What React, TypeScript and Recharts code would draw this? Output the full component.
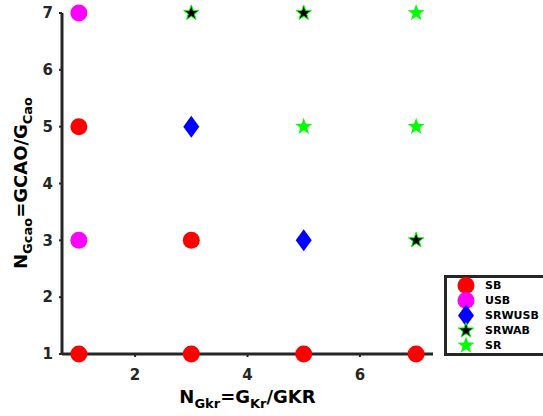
import { ScatterChart, Scatter, XAxis, YAxis, Legend } from "recharts";

const sbPoints = [
  { x: 1, y: 1 },
  { x: 3, y: 1 },
  { x: 5, y: 1 },
  { x: 7, y: 1 },
  { x: 1, y: 5 },
  { x: 3, y: 3 },
];
const usbPoints = [
  { x: 1, y: 7 },
  { x: 1, y: 3 },
];
const srwusbPoints = [
  { x: 3, y: 5 },
  { x: 5, y: 3 },
];
const srwabPoints = [
  { x: 3, y: 7 },
  { x: 5, y: 7 },
  { x: 7, y: 3 },
];
const srPoints = [
  { x: 7, y: 7 },
  { x: 5, y: 5 },
  { x: 7, y: 5 },
];

const seriesNames = ["SB", "USB", "SRWUSB", "SRWAB", "SR"];
const xTicks = [2, 4, 6];
const yTicks = [1, 2, 3, 4, 5, 6, 7];

const FONT = "'DejaVu Sans', sans-serif";
const DARK = "#262626";

function starPath(cx: number, cy: number, r: number) {
  const inner = r * 0.4;
  let d = "";
  for (let i = 0; i < 10; i++) {
    const rad = i % 2 === 0 ? r : inner;
    const a = -Math.PI / 2 + (i * Math.PI) / 5;
    d += `${i === 0 ? "M" : "L"}${cx + rad * Math.cos(a)},${cy + rad * Math.sin(a)}`;
  }
  return d + "Z";
}

const markers: Record<string, (cx: number, cy: number) => JSX.Element> = {
  SB: (cx, cy) => <circle cx={cx} cy={cy} r={8.5} fill="#ff0000" />,
  USB: (cx, cy) => <circle cx={cx} cy={cy} r={8.5} fill="#ff00ff" />,
  SRWUSB: (cx, cy) => (
    <path d={`M${cx},${cy - 11}L${cx + 8},${cy}L${cx},${cy + 11}L${cx - 8},${cy}Z`} fill="#0000ff" />
  ),
  SRWAB: (cx, cy) => (
    <path d={starPath(cx, cy, 8)} fill="#000000" stroke="#00ff00" strokeWidth={1} />
  ),
  SR: (cx, cy) => <path d={starPath(cx, cy, 9)} fill="#00ff00" />,
};

const shapeFor = (name: string) => (props: any) => markers[name](props.cx, props.cy);

function XLabel(props: any) {
  const { viewBox } = props;
  const cx = viewBox.x + viewBox.width / 2;
  const y = 403;
  return (
    <text x={cx} y={y} textAnchor="middle" fontFamily={FONT} fontWeight="bold" fontSize={18} fill="#000">
      N
      <tspan fontSize={13} dy={5}>Gkr</tspan>
      <tspan dy={-5}>=G</tspan>
      <tspan fontSize={13} dy={5}>Kr</tspan>
      <tspan dy={-5}>/GKR</tspan>
    </text>
  );
}

function YLabel() {
  const x = 27;
  const y = 183;
  return (
    <text
      x={x}
      y={y}
      transform={`rotate(-90, ${x}, ${y})`}
      textAnchor="middle"
      fontFamily={FONT}
      fontWeight="bold"
      fontSize={18}
      fill="#000"
    >
      N
      <tspan fontSize={13} dy={5}>Gcao</tspan>
      <tspan dy={-5}>=GCAO/G</tspan>
      <tspan fontSize={13} dy={5}>Cao</tspan>
    </text>
  );
}

function LegendBox() {
  return (
    <div
      style={{
        width: 110,
        height: 81,
        border: `3px solid ${DARK}`,
        background: "#fff",
        boxSizing: "border-box",
        paddingTop: 0,
      }}
    >
      {seriesNames.map((name) => (
        <div key={name} style={{ height: 15, display: "flex", alignItems: "center" }}>
          <svg width={36} height={15} style={{ overflow: "visible" }}>
            {markers[name](19, 7.5)}
          </svg>
          <span style={{ fontFamily: FONT, fontWeight: "bold", fontSize: 11, color: "#000", marginLeft: 2 }}>
            {name}
          </span>
        </div>
      ))}
    </div>
  );
}

const tickStyle = { fontFamily: FONT, fontWeight: "bold", fontSize: 15, fill: DARK };

export default function App() {
  return (
    <div style={{ position: "absolute", left: 0, top: 0, width: 543, height: 416, background: "#fff" }}>
      <ScatterChart width={543} height={416} margin={{ top: 13, right: 110, left: 0, bottom: 0 }}>
        <XAxis
          type="number"
          dataKey="x"
          domain={[0.7, 7.3]}
          ticks={xTicks}
          height={62}
          axisLine={{ stroke: DARK, strokeWidth: 3 }}
          tickLine={{ stroke: DARK, strokeWidth: 2 }}
          tickSize={3}
          tickMargin={12}
          tick={tickStyle}
          label={<XLabel />}
        />
        <YAxis
          type="number"
          dataKey="y"
          domain={[1, 7]}
          ticks={yTicks}
          width={62}
          axisLine={{ stroke: DARK, strokeWidth: 3 }}
          tickLine={{ stroke: DARK, strokeWidth: 2 }}
          tickSize={3}
          tickMargin={6}
          tick={tickStyle}
          label={<YLabel />}
        />
        <Scatter name="SB" data={sbPoints} shape={shapeFor("SB")} isAnimationActive={false} />
        <Scatter name="USB" data={usbPoints} shape={shapeFor("USB")} isAnimationActive={false} />
        <Scatter name="SRWUSB" data={srwusbPoints} shape={shapeFor("SRWUSB")} isAnimationActive={false} />
        <Scatter name="SRWAB" data={srwabPoints} shape={shapeFor("SRWAB")} isAnimationActive={false} />
        <Scatter name="SR" data={srPoints} shape={shapeFor("SR")} isAnimationActive={false} />
        <Legend
          layout="vertical"
          align="center"
          verticalAlign="middle"
          content={() => <LegendBox />}
          wrapperStyle={{ position: "absolute", left: 444, top: 275, width: 110 }}
        />
      </ScatterChart>
    </div>
  );
}
